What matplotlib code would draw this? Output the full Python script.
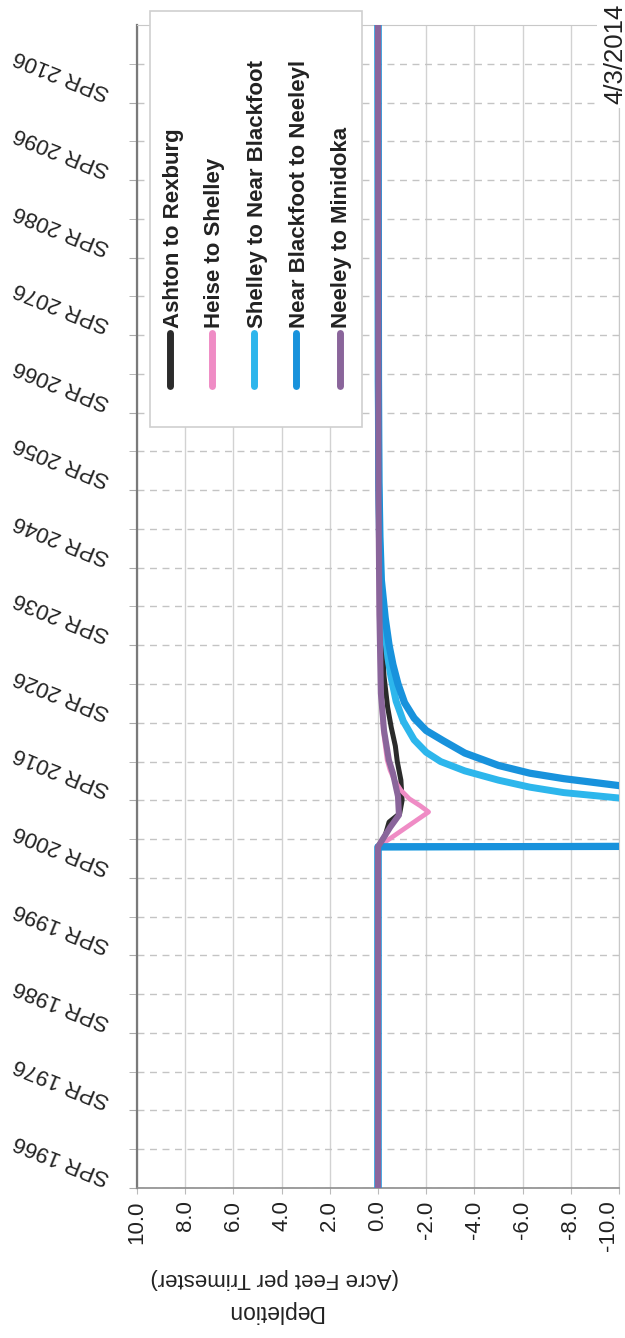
import matplotlib
matplotlib.use("Agg")
import matplotlib.pyplot as plt
from matplotlib.lines import Line2D
from matplotlib.patches import Rectangle

plt.rcParams['font.family'] = ['Liberation Sans', 'DejaVu Sans']

series_names = ["Ashton to Rexburg", "Heise to Shelley", "Shelley to Near Blackfoot",
                "Near Blackfoot to Neeleyl", "Neeley to Minidoka"]
series_colors = ["#2b2b2b", "#ef8cc5", "#2db6ec", "#1892dc", "#8a659b"]
series_widths = [3.6, 3.4, 5.0, 5.2, 4.4]

ashton_years = [1966, 2010.0, 2011.5, 2013.2, 2014.3, 2016.0, 2018.6, 2021.0, 2023.0,
                2025.4, 2028.0, 2032.0, 2040.0, 2050.0, 2116]
ashton_vals = [0, 0, -0.3, -0.46, -0.9, -1.0, -0.95, -0.8, -0.72,
               -0.55, -0.4, -0.25, -0.12, -0.05, 0]

heise_years = [1966, 2010.0, 2014.5, 2015.3, 2016.2, 2017.3, 2018.6, 2019.9, 2021.2,
               2025.0, 2030.0, 2040.0, 2055.0, 2116]
heise_vals = [0, 0, -2.1, -1.75, -1.3, -0.95, -0.68, -0.5, -0.38,
              -0.22, -0.12, -0.05, -0.02, 0]

shelley_years = [1966, 2010.0, 2010.33, 2012.0, 2014.0, 2016.3, 2017.0, 2017.7, 2018.6,
                 2019.8, 2021.0, 2022.2, 2023.8, 2026.2, 2028.8, 2031.9, 2034.4,
                 2039.0, 2044.4, 2050.0, 2057.0, 2070.0, 2116]
shelley_vals = [0, 0, -50, -28, -16, -10, -7.7, -6.3, -5.0,
                -3.6, -2.6, -2.0, -1.5, -1.05, -0.75, -0.54, -0.41,
                -0.25, -0.1, -0.06, -0.03, -0.01, 0]

blackfoot_years = [1966, 2010.0, 2010.33, 2012.0, 2014.0, 2016.0, 2017.9, 2018.8, 2019.5,
                   2020.5, 2022.1, 2023.7, 2025.0, 2026.6, 2028.6, 2031.0, 2033.5,
                   2036.0, 2039.5, 2044.4, 2050.0, 2057.0, 2070.0, 2116]
blackfoot_vals = [0, 0, -60, -35, -20, -13, -10, -7.7, -6.3,
                  -5.0, -3.6, -2.7, -2.0, -1.5, -1.1, -0.83, -0.62,
                  -0.46, -0.3, -0.14, -0.08, -0.04, -0.02, 0]

neeley_years = [1966, 2010.0, 2012.5, 2014.1, 2016.5, 2019.5, 2021.2, 2025.0, 2029.8,
                2040.0, 2055.0, 2116]
neeley_vals = [0, 0, -0.5, -0.87, -0.83, -0.62, -0.45, -0.25, -0.12,
               -0.06, -0.02, 0]

all_years = [ashton_years, heise_years, shelley_years, blackfoot_years, neeley_years]
all_vals = [ashton_vals, heise_vals, shelley_vals, blackfoot_vals, neeley_vals]

value_ticks = [10.0, 8.0, 6.0, 4.0, 2.0, 0.0, -2.0, -4.0, -6.0, -8.0, -10.0]
value_labels = ["10.0", "8.0", "6.0", "4.0", "2.0", "0.0", "-2.0", "-4.0", "-6.0", "-8.0", "-10.0"]
year_ticks = [1966, 1976, 1986, 1996, 2006, 2016, 2026, 2036, 2046, 2056, 2066, 2076, 2086, 2096, 2106]
year_labels = ["SPR %d" % y for y in year_ticks]
grid_years = list(range(1971, 2116, 10))

W, H = 625, 1338
def fx(px):
    return px / W
def fy(py):
    return 1 - py / H

fig = plt.figure(figsize=(W / 100, H / 100), dpi=100)
ax = fig.add_axes([fx(137), fy(1188), (619 - 137) / W, (1188 - 25) / H])

for yrs, vals, col, lw in zip(all_years, all_vals, series_colors, series_widths):
    ax.plot(vals, yrs, color=col, lw=lw, solid_joinstyle='round', solid_capstyle='butt',
            snap=False, zorder=3)

ax.set_xlim(10, -10)
ax.set_ylim(1966, 2116)

ax.set_xticks(value_ticks)
ax.set_xticklabels(value_labels, rotation=90, fontsize=16, color="#222222")
ax.tick_params(axis='x', length=4, color="#bbbbbb", pad=5)
ax.get_xticklabels()[-1].set_ha('right')

ax.set_yticks(year_ticks)
ax.set_yticklabels(year_labels, fontsize=16, color="#222222")
ax.set_yticks(grid_years, minor=True)
ax.tick_params(axis='y', which='both', length=6, color="#aaaaaa", pad=17)
for lab in ax.get_yticklabels():
    lab.set_rotation(158)
    lab.set_rotation_mode('anchor')
    lab.set_ha('left')
    lab.set_va('top')

ax.grid(axis='x', color="#d2d2d2", lw=1.0, zorder=0)
ax.grid(axis='y', which='both', color="#c4c4c4", lw=1.0, ls=(0, (5, 4)), zorder=0)

ax.spines['left'].set_color("#7a7a7a")
ax.spines['left'].set_linewidth(1.6)
ax.spines['bottom'].set_color("#8c8c8c")
ax.spines['bottom'].set_linewidth(1.2)
ax.spines['right'].set_color("#c8c8c8")
ax.spines['top'].set_color("#c8c8c8")

# axis titles (upside down, chart is rotated)
fig.text(fx(275), fy(1278), "(Acre Feet per Trimester)", rotation=180, fontsize=16,
         ha='center', va='center', color="#222222")
fig.text(fx(275), fy(1312), "Depletion", rotation=180, fontsize=16.5,
         ha='center', va='center', color="#222222")

# legend box, drawn by hand since the text is rotated
fig.add_artist(Rectangle((fx(150), fy(427)), (362 - 150) / W, (427 - 11) / H,
                         transform=fig.transFigure, facecolor='white',
                         edgecolor="#cfcfcf", lw=1.2, zorder=5))
line_x = [170, 212, 254, 296, 340]
text_x = [173, 215, 257, 299, 342]
for name, col, lx, tx in zip(series_names, series_colors, line_x, text_x):
    fig.add_artist(Line2D([fx(lx), fx(lx)], [fy(386), fy(333)], transform=fig.transFigure,
                          color=col, lw=5.0, solid_capstyle='round', zorder=6))
    fig.text(fx(tx), fy(328), name, rotation=90, fontsize=16, fontweight='bold',
             ha='center', va='bottom', color="#222222", zorder=7)

# date stamp in the corner
fig.add_artist(Rectangle((fx(597), fy(108)), (W - 597) / W, 108 / H,
                         transform=fig.transFigure, facecolor='white', edgecolor='none', zorder=5))
fig.text(fx(615), fy(4), "4/3/2014", rotation=90, fontsize=18.5, ha='center', va='top',
         color="#222222", zorder=7)

fig.savefig("out.png", dpi=100)
